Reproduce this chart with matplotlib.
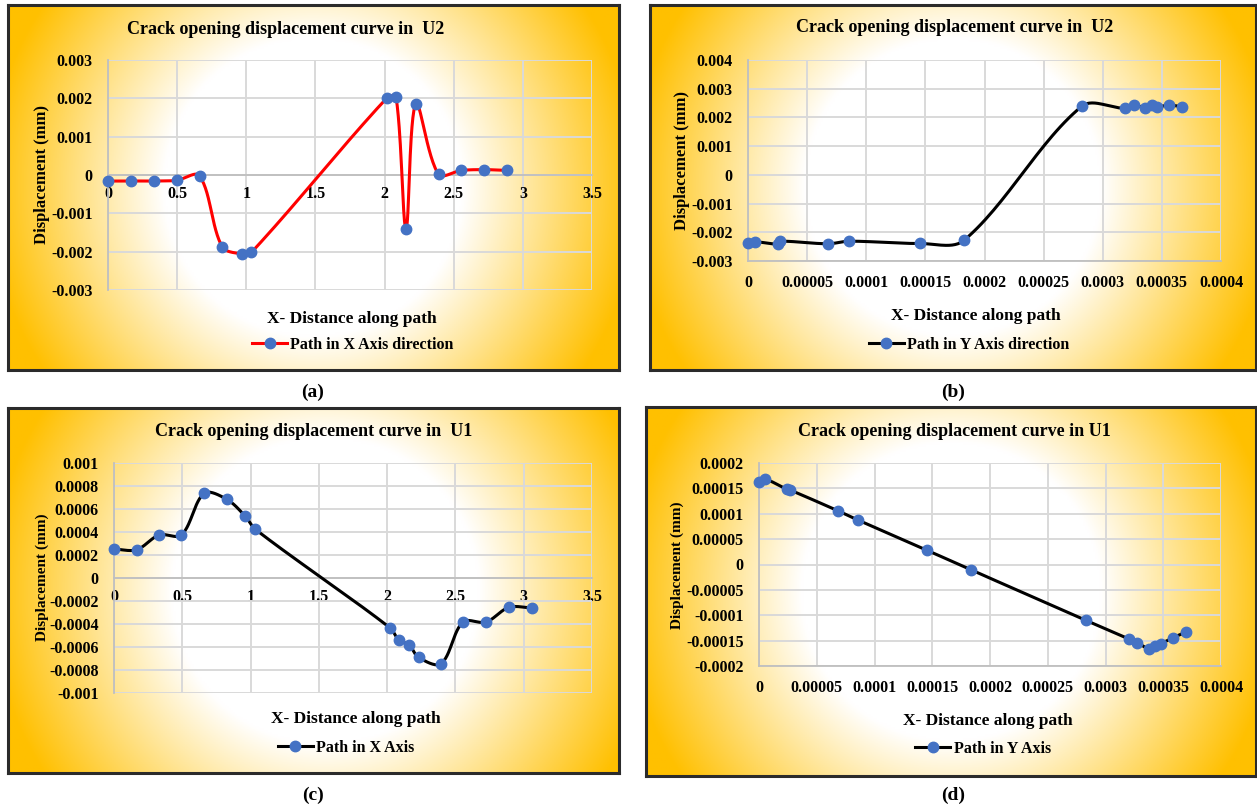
import numpy as np
import matplotlib
matplotlib.use("Agg")
import matplotlib.pyplot as plt
from matplotlib.lines import Line2D

plt.rcParams['font.family'] = ['Liberation Serif', 'DejaVu Serif']
plt.rcParams['font.weight'] = 'bold'

# (a) U2, path along X
a_x = [0, 0.166, 0.332, 0.496, 0.662, 0.825, 0.968, 1.037, 2.014, 2.083, 2.155, 2.226, 2.39, 2.556, 2.72, 2.885]
a_y = [-0.000158, -0.000155, -0.000158, -0.00014, -0.00002, -0.00187, -0.00206, -0.00202,
       0.00200, 0.00204, -0.00140, 0.00186, 0.00002, 0.00012, 0.00014, 0.00012]

# (b) U2, path along Y
b_x = [0, 0.0000057, 0.0000253, 0.0000273, 0.000068, 0.000085, 0.0001453, 0.0001827,
       0.0002823, 0.0003187, 0.0003263, 0.000336, 0.000342, 0.000346, 0.000356, 0.000367]
b_y = [-0.00239, -0.00233, -0.00241, -0.00231, -0.0024, -0.00231, -0.00239, -0.00228,
       0.00239, 0.00232, 0.00243, 0.00233, 0.00244, 0.00237, 0.00243, 0.00237]

# (c) U1, path along X
c_x = [0, 0.166, 0.331, 0.494, 0.66, 0.826, 0.962, 1.035, 2.02, 2.087, 2.16, 2.23, 2.395, 2.555, 2.724, 2.892, 3.061]
c_y = [0.000252, 0.000246, 0.000374, 0.000374, 0.000736, 0.000684, 0.000536, 0.000423,
       -0.000432, -0.000542, -0.00058, -0.00069, -0.000745, -0.000383, -0.000383, -0.000255, -0.000261]

# (d) U1, path along Y
d_x = [0, 0.0000055, 0.0000243, 0.0000267, 0.0000682, 0.0000853, 0.0001452, 0.0001836,
       0.000283, 0.0003205, 0.0003277, 0.0003373, 0.0003432, 0.000348, 0.0003586, 0.0003699]
d_y = [0.000163, 0.000168, 0.000148, 0.000147, 0.000106, 0.000088, 0.0000283, -0.0000105,
       -0.00011, -0.000147, -0.000154, -0.000166, -0.00016, -0.000156, -0.000144, -0.000133]

x_ticks_dist = np.round(np.arange(0, 3.51, 0.5), 6)
x_ticks_small = np.round(np.arange(0, 0.00041, 0.00005), 8)
a_yticks = np.round(np.arange(-0.003, 0.00301, 0.001), 6)
b_yticks = np.round(np.arange(-0.003, 0.00401, 0.001), 6)
c_yticks = np.round(np.arange(-0.001, 0.00101, 0.0002), 6)
d_yticks = np.round(np.arange(-0.0002, 0.000201, 0.00005), 8)

W, H = 1257, 808
ORANGE = np.array([255, 192, 0]) / 255.0


def rect(l, t, r, b):
    return [l / W, 1 - b / H, (r - l) / W, (b - t) / H]


def fmt(v):
    if abs(v) < 1e-12:
        return '0'
    return np.format_float_positional(v, trim='-')


def smooth(x, y, sx, sy, n=30):
    # excel-like smoothed line: bezier segments, tangents scaled by chord length
    P = np.column_stack([np.asarray(x) * sx, np.asarray(y) * sy])
    out = [P[0]]
    t = np.linspace(0, 1, n)[1:, None]
    for i in range(len(P) - 1):
        p0 = P[i - 1] if i > 0 else P[i]
        p1, p2 = P[i], P[i + 1]
        p3 = P[i + 2] if i + 2 < len(P) else P[i + 1]
        d01 = np.hypot(*(p1 - p0))
        d12 = np.hypot(*(p2 - p1))
        d23 = np.hypot(*(p3 - p2))
        c1 = p1 + (p2 - p0) / 3 * (d12 / (d01 + d12) if d01 + d12 > 0 else 0)
        c2 = p2 - (p3 - p1) / 3 * (d12 / (d12 + d23) if d12 + d23 > 0 else 0)
        B = (1 - t) ** 3 * p1 + 3 * (1 - t) ** 2 * t * c1 + 3 * (1 - t) * t ** 2 * c2 + t ** 3 * p2
        out.extend(B)
    out = np.array(out)
    return out[:, 0] / sx, out[:, 1] / sy


def gradient_box(frame, cx):
    bg = fig.add_axes(rect(*frame), zorder=0)
    w, h = frame[2] - frame[0], frame[3] - frame[1]
    u, v = np.meshgrid(np.linspace(0, w, 300), np.linspace(0, h, 200))
    cxp, cyp = cx * w, 0.5 * h
    rmax = np.hypot(max(cxp, w - cxp), h / 2)
    r = np.hypot(u - cxp, v - cyp) / rmax
    tt = np.clip((r - 0.42) / 0.5, 0, 1)[..., None]
    img = (1 - tt) * np.ones(3) + tt * ORANGE
    bg.imshow(img, extent=[0, 1, 0, 1], aspect='auto', origin='upper')
    bg.set_xticks([])
    bg.set_yticks([])
    for s in bg.spines.values():
        s.set_color('#2b2b2b')
        s.set_linewidth(2.2)
    return bg


def panel(frame, area, x, y, xticks, yticks, color, title, legend, title_pos,
          ylab_pos, xlab_pos, leg_pos, zero_axis, ylab_size, cx):
    gradient_box(frame, cx)
    ax = fig.add_axes(rect(*area), zorder=2)
    ax.patch.set_alpha(0)
    ax.set_xlim(xticks[0], xticks[-1])
    ax.set_ylim(yticks[0], yticks[-1])
    ax.set_xticks(xticks)
    ax.set_yticks(yticks)
    ax.set_xticklabels([fmt(v) for v in xticks])
    ax.set_yticklabels([fmt(v) for v in yticks])
    ax.grid(True, color='#d9d9d9', linewidth=1.4)
    ax.set_axisbelow(True)
    ax.tick_params(length=0, labelsize=11.5, pad=11)
    ax.tick_params(axis='x', pad=8 if zero_axis else 10)
    for s in ['top', 'right']:
        ax.spines[s].set_visible(False)
    for s in ['left', 'bottom']:
        ax.spines[s].set_color('#bfbfbf')
        ax.spines[s].set_linewidth(1.3)
    if zero_axis:
        ax.spines['bottom'].set_position(('data', 0))

    sx = (area[2] - area[0]) / (xticks[-1] - xticks[0])
    sy = (area[3] - area[1]) / (yticks[-1] - yticks[0])
    xs, ys = smooth(x, y, sx, sy)
    ax.plot(xs, ys, color=color, linewidth=2.2, zorder=3, clip_on=False)
    ax.plot(x, y, 'o', color='#4472c4', markersize=7.5, zorder=4, clip_on=False)

    fig.text(title_pos[0] / W, 1 - title_pos[1] / H, title, ha='center', va='center',
             fontsize=13, fontweight='bold')
    fig.text(ylab_pos[0] / W, 1 - ylab_pos[1] / H, 'Displacement (mm)', rotation=90,
             ha='center', va='center', fontsize=ylab_size, fontweight='bold')
    fig.text(xlab_pos[0] / W, 1 - xlab_pos[1] / H, 'X- Distance along path', ha='center',
             va='center', fontsize=12.5, fontweight='bold')
    handle = Line2D([], [], color=color, linewidth=2.2, marker='o',
                    markerfacecolor='#4472c4', markeredgecolor='#4472c4', markersize=7.5)
    fig.legend([handle], [legend], loc='center', frameon=False,
               bbox_to_anchor=(leg_pos[0] / W, 1 - leg_pos[1] / H), handlelength=2.2,
               handletextpad=0.2, borderpad=0, prop={'weight': 'bold', 'size': 11.5})
    return ax


fig = plt.figure(figsize=(W / 100, H / 100), dpi=100)

panel((8, 5, 619, 370), (108, 60, 592, 290), a_x, a_y, x_ticks_dist, a_yticks, '#ff0000',
      'Crack opening displacement curve in  U2', 'Path in X Axis direction',
      (286, 29), (42, 175), (352, 319), (353, 345), True, 12, 0.5)
panel((650, 5, 1256, 370), (748, 60, 1221, 261), b_x, b_y, x_ticks_small, b_yticks, '#000000',
      'Crack opening displacement curve in  U2', 'Path in Y Axis direction',
      (955, 28), (682, 160), (976, 316), (969, 345), False, 12, 0.5)
panel((8, 408, 619, 773), (114, 463, 592, 693), c_x, c_y, x_ticks_dist, c_yticks, '#000000',
      'Crack opening displacement curve in  U1', 'Path in X Axis',
      (314, 432), (42, 577), (356, 719), (346, 748), True, 11, 0.52)
panel((646, 407, 1256, 776), (759, 463, 1221, 666), d_x, d_y, x_ticks_small, d_yticks, '#000000',
      'Crack opening displacement curve in U1', 'Path in Y Axis',
      (954, 432), (677, 565), (988, 721), (983, 749), False, 11, 0.5)

for lab, (px, py) in zip(['(a)', '(b)', '(c)', '(d)'],
                         [(313, 392), (953, 392), (313, 795), (953, 795)]):
    fig.text(px / W, 1 - py / H, lab, ha='center', va='center', fontsize=14, fontweight='bold')

fig.savefig('out.png', dpi=100)
